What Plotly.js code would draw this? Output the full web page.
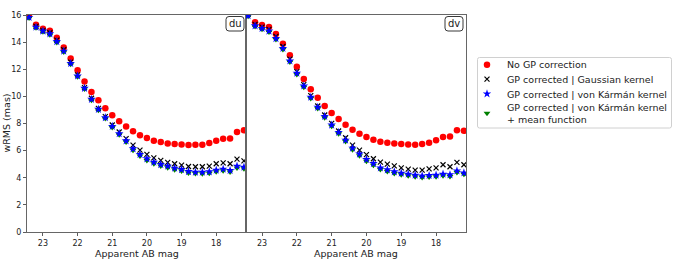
<!DOCTYPE html>
<html><head><meta charset="utf-8">
<script src="https://cdn.plot.ly/plotly-3.0.1.min.js"></script>
<style>html,body{margin:0;padding:0;background:#fff}#c{width:684px;height:266px}</style>
</head><body><div id="c"></div>
<script>
const mag = [23.4,23.2,23.0,22.8,22.6,22.4,22.2,22.0,21.8,21.6,21.4,21.2,21.0,20.8,20.6,20.4,20.2,20.0,19.8,19.6,19.4,19.2,19.0,18.8,18.6,18.4,18.2,18.0,17.8,17.6,17.4,17.2];

const duNoGP = [16.05,15.29,14.99,14.84,14.32,13.61,12.80,11.93,11.09,10.33,9.71,9.12,8.60,8.16,7.77,7.42,7.13,6.93,6.73,6.63,6.53,6.48,6.46,6.41,6.43,6.43,6.56,6.73,6.88,6.90,7.37,7.50];
const duGauss = [15.95,15.16,14.84,14.69,14.15,13.44,12.52,11.59,10.65,9.86,9.12,8.51,7.89,7.37,6.88,6.41,6.04,5.72,5.47,5.28,5.13,5.03,4.93,4.83,4.81,4.81,4.86,5.03,5.10,5.03,5.37,5.25];
const duVK = [15.83,15.11,14.82,14.62,14.05,13.34,12.43,11.51,10.60,9.79,9.05,8.43,7.79,7.25,6.73,6.14,5.72,5.40,5.15,4.98,4.86,4.71,4.61,4.46,4.41,4.41,4.44,4.56,4.64,4.54,4.86,4.78];
const duVKMean = [15.78,15.06,14.76,14.55,13.98,13.27,12.36,11.44,10.54,9.72,8.98,8.36,7.71,7.17,6.64,6.03,5.60,5.28,5.04,4.86,4.74,4.59,4.49,4.35,4.31,4.30,4.33,4.45,4.52,4.42,4.72,4.66];

const dvNoGP = [16.15,15.46,15.26,15.11,14.60,13.88,13.04,12.18,11.29,10.53,9.89,9.29,8.78,8.33,7.91,7.54,7.25,7.00,6.80,6.66,6.58,6.53,6.48,6.46,6.43,6.48,6.58,6.76,7.00,7.05,7.50,7.47];
const dvGauss = [16.05,15.31,15.11,14.94,14.42,13.68,12.75,11.83,10.87,10.06,9.29,8.63,8.01,7.45,6.95,6.41,6.04,5.70,5.40,5.15,5.00,4.88,4.73,4.64,4.56,4.56,4.66,4.73,4.96,4.81,5.13,4.96];
const dvVK = [15.95,15.21,15.01,14.82,14.27,13.54,12.62,11.71,10.77,9.94,9.20,8.53,7.89,7.35,6.78,6.19,5.75,5.35,5.05,4.73,4.59,4.44,4.34,4.27,4.19,4.14,4.17,4.19,4.27,4.22,4.51,4.36];
const dvVKMean = [15.90,15.15,14.95,14.75,14.20,13.46,12.54,11.62,10.68,9.85,9.10,8.43,7.79,7.24,6.67,6.07,5.63,5.22,4.93,4.61,4.47,4.32,4.22,4.15,4.07,4.02,4.05,4.07,4.15,4.10,4.39,4.25];

const names = ["No GP correction","GP corrected | Gaussian kernel","GP corrected | von Kármán kernel","GP corrected | von Kármán kernel<br>+ mean function"];
const xTicks = [23,22,21,20,19,18];
const yTicks = [0,2,4,6,8,10,12,14,16];
const panelLabels = ["du","dv"];
const xTitle = "Apparent AB mag";
const yTitle = "wRMS (mas)";

const FONT = "DejaVu Sans";
const styles = [
  {symbol:"circle", size:6.5, color:"#ff0000", line:{width:0}},
  {symbol:"x-thin-open", size:5, color:"#000000", line:{width:1.2, color:"#000000"}},
  {symbol:"star", size:6.5, color:"#0000ff", line:{width:0}},
  {symbol:"triangle-down", size:6, color:"#008000", line:{width:0}}
];
const legendIds = ["legend","legend2","legend3","legend4"];
const sets = [[duNoGP,duGauss,duVK,duVKMean],[dvNoGP,dvGauss,dvVK,dvVKMean]];
const drawOrder = [0,1,3,2];
const traces = [];
sets.forEach((s,p)=>{
  drawOrder.forEach(i=>{
    traces.push({
      x: mag, y: s[i], type:"scatter", mode:"markers",
      name: names[i], legend: legendIds[i], showlegend: p===0,
      xaxis: p===0?"x":"x2", yaxis: p===0?"y":"y2",
      marker: styles[i], hoverinfo:"skip"
    });
  });
});

const axisBase = {
  range:[23.46,17.14], showgrid:false, zeroline:false, showline:true, mirror:true,
  linecolor:"#666", linewidth:1, ticks:"outside", ticklen:3, tickwidth:0.8, tickcolor:"#333",
  tickvals:xTicks, ticktext:xTicks.map(String),
  tickfont:{family:FONT, size:8, color:"#222"}
};
const yBase = {
  range:[0,16], showgrid:false, zeroline:false, showline:true, mirror:true,
  linecolor:"#666", linewidth:1, ticks:"outside", ticklen:3, tickwidth:0.8, tickcolor:"#333",
  tickvals:yTicks, tickfont:{family:FONT, size:8, color:"#222"}
};

function rrect(x0,x1,y0,y1,rx,ry){
  return `M ${x0+rx} ${y0} L ${x1-rx} ${y0} Q ${x1} ${y0} ${x1} ${y0+ry} L ${x1} ${y1-ry} Q ${x1} ${y1} ${x1-rx} ${y1} L ${x0+rx} ${y1} Q ${x0} ${y1} ${x0} ${y1-ry} L ${x0} ${y0+ry} Q ${x0} ${y0} ${x0+rx} ${y0} Z`;
}
const W=439, H=217;
const px = v => (v-27)/W, py = v => (232-v)/H;
const boxes = [[226,244],[445,463]];
const shapes = boxes.map(b=>({type:"path", xref:"paper", yref:"paper",
  path: rrect(px(b[0]),px(b[1]),py(31),py(16.5),3/W,3/H),
  line:{color:"#222", width:0.9}, fillcolor:"rgba(255,255,255,0.8)"}));
shapes.push({type:"path", xref:"paper", yref:"paper",
  path: rrect(px(477.5),px(671.5),py(128),py(57.5),2/W,2/H),
  line:{color:"#d0d0d0", width:1}, fillcolor:"rgba(0,0,0,0)"});
const annotations = boxes.map((b,i)=>({xref:"paper", yref:"paper", x:px((b[0]+b[1])/2), y:py(23.5),
  text:panelLabels[i], showarrow:false, xanchor:"center", yanchor:"middle",
  font:{family:FONT, size:10, color:"#222"}}));
annotations.push({xref:"paper", yref:"paper", x:px(6), y:0.5, text:yTitle, textangle:-90,
  showarrow:false, xanchor:"center", yanchor:"middle", font:{family:FONT, size:9.5, color:"#222"}});
[[0,0.4989],[0.4989,1]].forEach(d=>{
  annotations.push({xref:"paper", yref:"paper", x:(d[0]+d[1])/2, y:py(253.5), text:xTitle,
    showarrow:false, xanchor:"center", yanchor:"middle", font:{family:FONT, size:9.5, color:"#222"}});
});

const legendCenters = [64.7, 79.2, 93.8, 113.5];
const layout = {
  width:684, height:266, margin:{l:27, r:218, t:15, b:34},
  paper_bgcolor:"#fff", plot_bgcolor:"#fff", showlegend:true,
  xaxis: Object.assign({}, axisBase, {domain:[0,0.4989], anchor:"y"}),
  xaxis2: Object.assign({}, axisBase, {domain:[0.4989,1], anchor:"y2"}),
  yaxis: Object.assign({}, yBase, {anchor:"x"}),
  yaxis2: Object.assign({}, yBase, {anchor:"x2", showticklabels:false, ticks:""}),
  shapes, annotations
};
legendIds.forEach((id,i)=>{
  layout[id] = {x:px(467), y:py(legendCenters[i]), xanchor:"left", yanchor:"middle",
    bgcolor:"rgba(0,0,0,0)", borderwidth:0, valign:"middle",
    font:{family:FONT, size:9.5, color:"#222"}};
});
Plotly.newPlot("c", traces, layout, {staticPlot:true});
</script></body></html>
